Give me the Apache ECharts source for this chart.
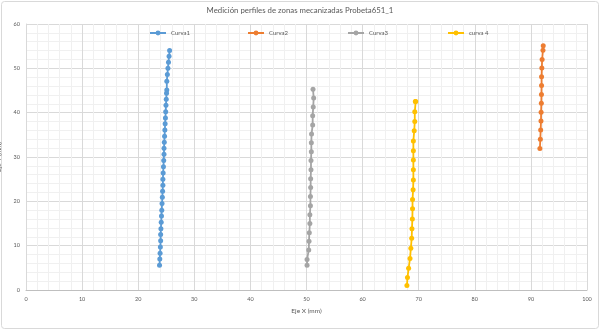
<!DOCTYPE html>
<html>
<head>
<meta charset="utf-8">
<style>
  html, body { margin: 0; padding: 0; background: #ffffff; }
  #chart { width: 600px; height: 330px; }
</style>
<script src="https://cdn.jsdelivr.net/npm/echarts@6/dist/echarts.min.js"></script>
</head>
<body>
<div id="chart"></div>
<script>
// Measured profile points (X mm, Y mm) for each machined zone
const curva1X = [23.8, 23.85, 23.9, 23.95, 24.0, 24.0, 24.05, 24.1, 24.15, 24.2, 24.25, 24.3, 24.35, 24.4, 24.4, 24.45, 24.5, 24.55, 24.6, 24.6, 24.65, 24.7, 24.75, 24.8, 24.85, 24.9, 24.95, 25.0, 25.05, 25.1, 25.1, 25.2, 25.3, 25.4, 25.5, 25.6];
const curva1Y = [5.6, 7.0, 8.3, 9.7, 11.1, 12.5, 13.8, 15.3, 16.7, 18.0, 19.5, 20.9, 22.3, 23.6, 25.0, 26.4, 27.8, 29.2, 30.6, 32.0, 33.3, 34.7, 36.1, 37.5, 38.8, 40.2, 41.7, 43.0, 44.4, 45.1, 47.1, 48.6, 50.0, 51.4, 52.7, 54.0];

const curva2X = [91.6, 91.68, 91.74, 91.8, 91.82, 91.86, 91.88, 91.9, 91.9, 91.95, 92.0, 92.15, 92.2];
const curva2Y = [31.9, 34.0, 36.1, 38.1, 40.1, 42.1, 44.1, 46.1, 48.1, 50.1, 52.0, 54.1, 55.1];

const curva3X = [50.1, 50.1, 50.4, 50.45, 50.5, 50.6, 50.6, 50.7, 50.7, 50.74, 50.74, 50.8, 50.8, 50.86, 50.86, 50.9, 51.1, 51.1, 51.2, 51.28, 51.16];
const curva3Y = [5.6, 6.9, 9.0, 11.0, 12.9, 15.0, 17.0, 19.0, 21.1, 23.1, 25.1, 27.1, 29.2, 31.2, 33.2, 35.2, 37.2, 39.3, 41.3, 43.3, 45.3];

const curva4X = [67.9, 68.0, 68.2, 68.45, 68.6, 68.75, 68.8, 68.87, 68.9, 68.9, 69.0, 69.05, 69.05, 69.05, 69.05, 69.05, 69.2, 69.3, 69.3, 69.46, 69.4];
const curva4Y = [1.0, 2.8, 4.9, 7.1, 9.4, 11.7, 13.8, 16.0, 18.3, 20.4, 22.6, 24.8, 27.1, 29.3, 31.4, 33.6, 35.9, 38.0, 40.2, 42.5, 42.5];

const seriesNames = ['Curva1', 'Curva2', 'Curva3', 'curva 4'];
const seriesColors = ['#5B9BD5', '#ED7D31', '#A5A5A5', '#FFC000'];

const xTicks = { min: 0, max: 100, interval: 10 };
const yTicks = { min: 0, max: 60, interval: 10 };

const chartTitle = 'Medición perfiles de zonas mecanizadas Probeta651_1';
const xAxisTitle = 'Eje X (mm)';
const yAxisTitle = 'Eje Y (mm)';

function pairs(xs, ys) {
  return xs.map((x, i) => [x, ys[i]]);
}

const allX = [curva1X, curva2X, curva3X, curva4X];
const allY = [curva1Y, curva2Y, curva3Y, curva4Y];

const FONT = 'Lato, "Open Sans", sans-serif';
const TEXT = '#595959';

// one legend block per series, spread evenly across the top of the plot
const legendLeft = [144, 242, 342, 442];
const legends = seriesNames.map((name, i) => ({
  left: legendLeft[i],
  top: 25,
  itemWidth: 16,
  itemHeight: 6,
  textStyle: { fontFamily: FONT, fontSize: 6, color: TEXT },
  data: [name]
}));

const chart = echarts.init(document.getElementById('chart'), null, { renderer: 'canvas' });

chart.setOption({
  backgroundColor: '#ffffff',
  animation: false,
  textStyle: { fontFamily: FONT },
  title: {
    text: chartTitle,
    left: 'center',
    top: 1,
    textStyle: { fontFamily: FONT, fontSize: 7.8, fontWeight: 'normal', color: TEXT }
  },
  legend: legends,
  graphic: [{
    type: 'rect',
    shape: { x: 1.5, y: 1.5, width: 597, height: 327, r: 3 },
    style: { fill: 'none', stroke: '#d9d9d9', lineWidth: 1 },
    silent: true
  }],
  grid: { left: 26, right: 13, top: 24, bottom: 40, containLabel: false, outerBoundsMode: 'none' },
  xAxis: {
    type: 'value',
    min: xTicks.min, max: xTicks.max, interval: xTicks.interval,
    name: xAxisTitle,
    nameLocation: 'middle',
    nameGap: 17,
    nameTextStyle: { fontFamily: FONT, fontSize: 6.5, color: TEXT },
    axisLine: { show: true, lineStyle: { color: '#bfbfbf' } },
    axisTick: { show: false },
    axisLabel: { fontFamily: FONT, fontSize: 5.5, color: TEXT, margin: 6 },
    splitLine: { show: true, lineStyle: { color: '#d9d9d9', width: 1 } },
    minorTick: { show: false, splitNumber: 5 },
    minorSplitLine: { show: true, lineStyle: { color: '#f0f0f0', width: 1 } }
  },
  yAxis: {
    type: 'value',
    min: yTicks.min, max: yTicks.max, interval: yTicks.interval,
    name: yAxisTitle,
    nameLocation: 'middle',
    nameGap: 19,
    nameRotate: 90,
    nameTextStyle: { fontFamily: FONT, fontSize: 6.5, color: TEXT },
    axisLine: { show: true, lineStyle: { color: '#d9d9d9' } },
    axisTick: { show: false },
    axisLabel: { fontFamily: FONT, fontSize: 5.5, color: TEXT, margin: 6 },
    splitLine: { show: true, lineStyle: { color: '#d9d9d9', width: 1 } },
    minorTick: { show: false, splitNumber: 5 },
    minorSplitLine: { show: true, lineStyle: { color: '#f0f0f0', width: 1 } }
  },
  series: seriesNames.map((name, i) => ({
    name: name,
    type: 'line',
    data: pairs(allX[i], allY[i]),
    color: seriesColors[i],
    symbol: 'circle',
    symbolSize: 5,
    showSymbol: true,
    lineStyle: { width: 1.8, color: seriesColors[i] },
    itemStyle: { color: seriesColors[i] }
  }))
});
</script>
</body>
</html>
